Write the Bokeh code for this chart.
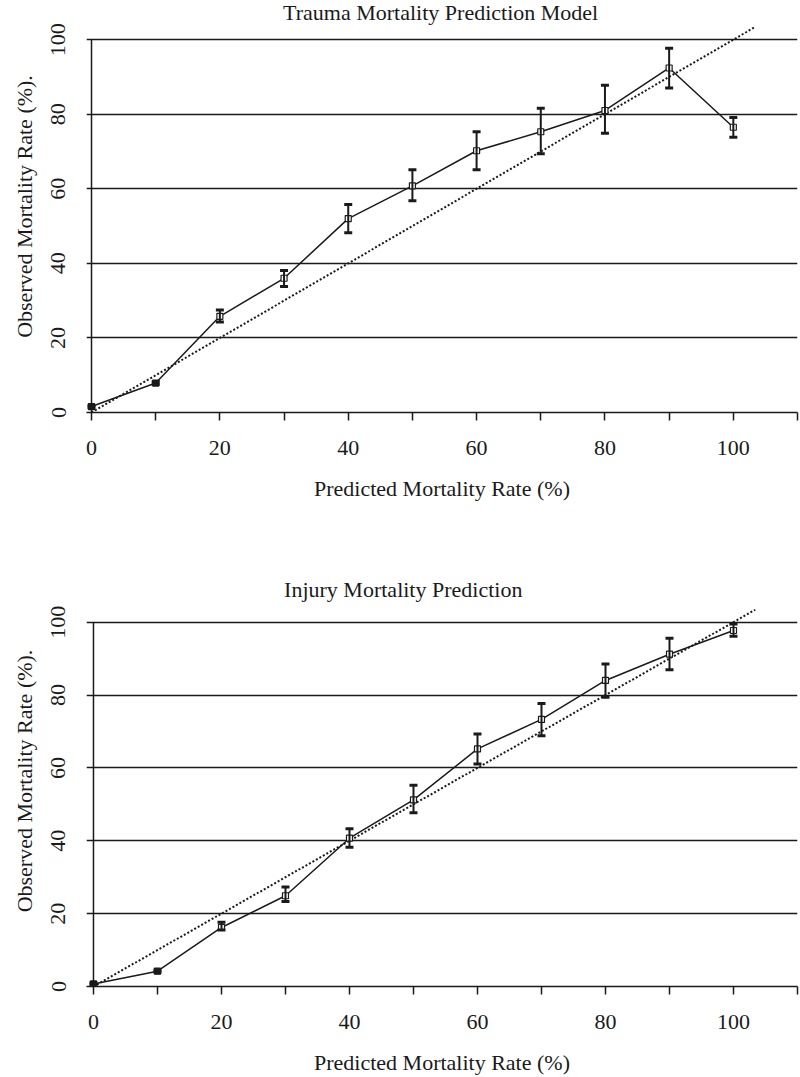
from bokeh.plotting import figure
from bokeh.models import Range1d, FixedTicker, Whisker, TeeHead, ColumnDataSource, Label
from bokeh.layouts import column
from bokeh.embed import file_html
from bokeh.resources import INLINE

# ---------------- data ----------------
predicted = [0, 10, 20, 30, 40, 50, 60, 70, 80, 90, 100]

tmpm_title = "Trauma Mortality Prediction Model"
tmpm_observed = [1.6, 7.9, 25.8, 36.0, 52.0, 60.8, 70.2, 75.3, 81.0, 92.4, 76.5]
tmpm_upper = [1.9, 8.3, 27.5, 38.1, 55.8, 65.1, 75.3, 81.6, 87.8, 97.7, 79.1]
tmpm_lower = [1.3, 7.5, 24.3, 33.8, 48.2, 56.8, 65.1, 69.4, 74.9, 87.0, 73.8]

imp_title = "Injury Mortality Prediction"
imp_observed = [0.7, 4.2, 16.2, 24.9, 40.7, 51.2, 65.2, 73.3, 84.0, 91.2, 97.7]
imp_upper = [1.0, 4.5, 17.6, 27.3, 43.3, 55.2, 69.3, 77.7, 88.5, 95.6, 99.5]
imp_lower = [0.4, 3.9, 15.5, 23.3, 38.2, 47.7, 61.1, 68.8, 79.4, 86.9, 96.1]

identity_line = [0, 103.4]          # perfect-calibration diagonal (x = y)
x_major_ticks = [0, 20, 40, 60, 80, 100]
x_minor_ticks = [10, 30, 50, 70, 90, 110]
y_ticks = [0, 20, 40, 60, 80, 100]

x_label = "Predicted Mortality Rate (%)"
y_label = "Observed Mortality Rate (%)."

FONT = "Liberation Serif"
INK = "#1a1a1a"


def make_chart(title, obs, up, lo, height, b_left, b_right, b_bottom, x_start, y_end,
               title_x, title_y):
    p = figure(width=800, height=height, output_backend="svg", toolbar_location=None,
               x_range=Range1d(x_start, 110), y_range=Range1d(0, y_end),
               min_border_left=b_left, min_border_right=b_right,
               min_border_top=0, min_border_bottom=b_bottom)
    p.outline_line_color = None
    p.background_fill_color = "white"
    p.border_fill_color = "white"

    # grid
    p.xgrid.visible = False
    p.ygrid.ticker = FixedTicker(ticks=y_ticks)
    p.ygrid.grid_line_color = INK
    p.ygrid.grid_line_width = 1.4

    # x axis
    xa = p.xaxis[0]
    xa.ticker = FixedTicker(ticks=x_major_ticks, minor_ticks=x_minor_ticks)
    xa.axis_line_color = INK
    xa.axis_line_width = 1.5
    xa.major_tick_line_color = INK
    xa.minor_tick_line_color = INK
    xa.major_tick_line_width = 1.5
    xa.minor_tick_line_width = 1.5
    xa.major_tick_out = 8
    xa.minor_tick_out = 8
    xa.major_tick_in = 0
    xa.minor_tick_in = 0
    xa.major_label_text_font = FONT
    xa.major_label_text_font_size = "22px"
    xa.major_label_text_color = INK
    xa.major_label_standoff = 20
    xa.axis_label = x_label
    xa.axis_label_text_font = FONT
    xa.axis_label_text_font_size = "22px"
    xa.axis_label_text_font_style = "normal"
    xa.axis_label_text_color = INK
    xa.axis_label_standoff = 18

    # y axis (its line is drawn at x = 0 separately)
    ya = p.yaxis[0]
    ya.ticker = FixedTicker(ticks=y_ticks)
    ya.axis_line_color = None
    ya.major_tick_line_color = None
    ya.minor_tick_line_color = None
    ya.major_tick_out = 0
    ya.major_tick_in = 0
    ya.minor_tick_out = 0
    ya.minor_tick_in = 0
    ya.major_label_orientation = "vertical"
    ya.major_label_text_font = FONT
    ya.major_label_text_font_size = "22px"
    ya.major_label_text_color = INK
    ya.major_label_standoff = 21
    ya.axis_label = y_label
    ya.axis_label_text_font = FONT
    ya.axis_label_text_font_size = "22px"
    ya.axis_label_text_font_style = "normal"
    ya.axis_label_text_color = INK
    ya.axis_label_standoff = 12

    p.segment(x0=predicted[0], y0=y_ticks[0], x1=predicted[0], y1=y_ticks[-1],
              line_color=INK, line_width=1.5)

    # diagonal reference line
    p.line(identity_line, identity_line, line_color=INK, line_width=2, line_dash="2 2")

    fills = ["black" if (u - l) < 1.0 else "white" for u, l in zip(up, lo)]
    src = ColumnDataSource(dict(x=predicted, y=obs, upper=up, lower=lo, fill=fills))

    w = Whisker(base="x", upper="upper", lower="lower", source=src,
                line_color=INK, line_width=2, level="glyph",
                upper_head=TeeHead(size=8, line_width=3, line_color=INK),
                lower_head=TeeHead(size=8, line_width=3, line_color=INK))
    p.add_layout(w)

    p.line("x", "y", source=src, line_color=INK, line_width=1.5)
    p.scatter("x", "y", source=src, marker="square", size=6,
              fill_color="fill", line_color=INK, line_width=1.2)

    p.add_layout(Label(x=title_x, y=title_y, text=title, text_align="center",
                       text_baseline="middle", text_font=FONT,
                       text_font_size="22px", text_color=INK))
    return p


p1 = make_chart(tmpm_title, tmpm_observed, tmpm_upper, tmpm_lower,
                height=575, b_left=84, b_right=3, b_bottom=163, x_start=-0.78,
                y_end=110.5, title_x=54.4, title_y=107.2)
p2 = make_chart(imp_title, imp_observed, imp_upper, imp_lower,
                height=502, b_left=86, b_right=2, b_bottom=91, x_start=-1.09,
                y_end=112.8, title_x=48.4, title_y=108.9)

layout = column(p1, p2, spacing=0)
open("out.html", "w").write(file_html(layout, INLINE))
